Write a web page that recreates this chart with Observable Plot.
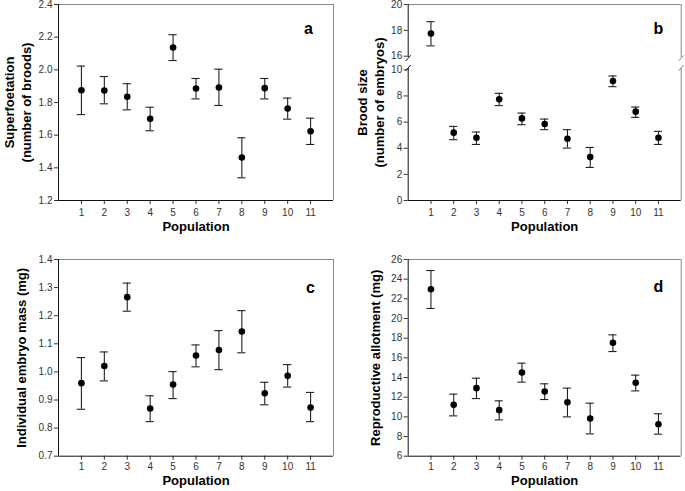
<!DOCTYPE html>
<html><head><meta charset="utf-8">
<script src="https://cdn.jsdelivr.net/npm/d3@7"></script>
<script src="https://cdn.jsdelivr.net/npm/@observablehq/plot@0.6"></script>
<style>
body{margin:0;background:#fff;}
#root{position:relative;width:685px;height:491px;overflow:hidden;background:#fff;}
#root svg{position:absolute;overflow:visible;}
</style></head><body><div id="root"></div>
<script>
const population = [1,2,3,4,5,6,7,8,9,10,11];

const superfoetation     = [1.875,1.873,1.835,1.700,2.137,1.886,1.892,1.463,1.888,1.763,1.624];
const superfoetationLow  = [1.726,1.792,1.755,1.627,2.057,1.822,1.782,1.339,1.822,1.698,1.543];
const superfoetationHigh = [2.023,1.959,1.915,1.771,2.215,1.947,2.004,1.584,1.947,1.827,1.704];

const broodSize     = [17.75,5.19,4.80,7.74,6.28,5.85,4.73,3.32,9.14,6.80,4.80];
const broodSizeLow  = [16.80,4.65,4.29,7.26,5.80,5.42,4.01,2.53,8.71,6.36,4.29];
const broodSizeHigh = [18.67,5.67,5.24,8.20,6.69,6.23,5.42,4.06,9.53,7.15,5.29];

const embryoMass     = [0.960,1.021,1.266,0.870,0.955,1.058,1.078,1.144,0.924,0.986,0.873];
const embryoMassLow  = [0.867,0.968,1.216,0.823,0.905,1.018,1.008,1.068,0.883,0.946,0.823];
const embryoMassHigh = [1.051,1.071,1.316,0.915,1.001,1.096,1.147,1.218,0.963,1.026,0.927];

const allotment     = [22.98,11.22,12.92,10.68,14.51,12.58,11.49,9.83,17.53,13.46,9.25];
const allotmentLow  = [21.02,10.10,11.86,9.69,13.53,11.76,10.00,8.27,16.64,12.64,8.24];
const allotmentHigh = [24.88,12.31,13.93,11.63,15.46,13.36,12.92,11.39,18.34,14.24,10.31];

const xDomain = [0, 12];
const superTicks = [1.2,1.4,1.6,1.8,2.0,2.2,2.4];
const broodTicksLow = [0,2,4,6,8,10];
const broodTicksHigh = [16,18,20];
const massTicks = [0.7,0.8,0.9,1.0,1.1,1.2,1.3,1.4];
const allotTicks = [6,8,10,12,14,16,18,20,22,24,26];

const FONT = "'Liberation Sans', Arial, Helvetica, sans-serif";
const root = document.getElementById("root");

function rows(mean, lo, hi) {
  return population.map((p, i) => ({pop: p, mean: mean[i], lo: lo[i], hi: hi[i]}));
}

function errorMarks(data) {
  const cap = 0.18;
  return [
    Plot.ruleX(data, {x: "pop", y1: "lo", y2: "hi", stroke: "#222", strokeWidth: 1.1}),
    Plot.ruleY(data, {y: "hi", x1: d => d.pop - cap, x2: d => d.pop + cap, stroke: "#222", strokeWidth: 1.1}),
    Plot.ruleY(data, {y: "lo", x1: d => d.pop - cap, x2: d => d.pop + cap, stroke: "#222", strokeWidth: 1.1}),
    Plot.dot(data, {x: "pop", y: "mean", r: 3.3, fill: "#000", stroke: null})
  ];
}

function place(svg, left, top) {
  svg.style.left = left + "px";
  svg.style.top = top + "px";
  root.appendChild(svg);
}

function panel({left, top, width, height, mL, mR, mT, mB, yDomain, yTicks, fmt, data, letter, letterDx, letterDy, ytitle, ytitleDx, xPad}) {
  const svg = Plot.plot({
    width, height,
    marginLeft: mL, marginRight: mR, marginTop: mT, marginBottom: mB,
    style: {fontFamily: FONT, fontSize: "10px", color: "#333", background: "transparent", overflow: "visible"},
    x: {domain: xDomain, ticks: population, tickSize: 4, tickPadding: xPad, label: null, tickFormat: d3.format("d")},
    y: {domain: yDomain, ticks: yTicks, tickSize: 4, tickPadding: 2, label: null, tickFormat: fmt},
    marks: [
      Plot.ruleY([yDomain[1]], {stroke: "#888", strokeWidth: 1}),
      Plot.ruleX([xDomain[1]], {stroke: "#888", strokeWidth: 1}),
      Plot.ruleX([xDomain[0]], {stroke: "#111", strokeWidth: 1}),
      Plot.ruleY([yDomain[0]], {stroke: "#111", strokeWidth: 1}),
      ...errorMarks(data),
      Plot.text([letter], {frameAnchor: "top-right", dx: letterDx, dy: letterDy, fontSize: 16, fontWeight: "bold", fill: "#000", textAnchor: "middle"}),
      Plot.text([ytitle], {frameAnchor: "left", dx: ytitleDx, rotate: -90, fontSize: 13, fontWeight: "bold", fill: "#000", lineHeight: 1.3, textAnchor: "middle"}),
      Plot.text(["Population"], {frameAnchor: "bottom", dy: top === 0 ? 30 : 28.5, fontSize: 13, fontWeight: "bold", fill: "#000", textAnchor: "middle"})
    ]
  });
  place(svg, left, top);
}

// Panel a
panel({left: 0, top: 0, width: 340, height: 245, mL: 58, mR: 7, mT: 4, mB: 45,
  yDomain: [1.2, 2.4], yTicks: superTicks, fmt: d3.format(".1f"),
  data: rows(superfoetation, superfoetationLow, superfoetationHigh),
  letter: "a", letterDx: -25, letterDy: 18,
  ytitle: "Superfoetation\n(number of broods)", ytitleDx: -41.5, xPad: 4.5});

// Panel c
panel({left: 0, top: 245, width: 340, height: 246, mL: 58, mR: 7, mT: 14, mB: 35.3,
  yDomain: [0.7, 1.4], yTicks: massTicks, fmt: d3.format(".1f"),
  data: rows(embryoMass, embryoMassLow, embryoMassHigh),
  letter: "c", letterDx: -23, letterDy: 22,
  ytitle: "Individual embryo mass (mg)", ytitleDx: -38, xPad: 2.5});

// Panel d
panel({left: 340, top: 245, width: 345, height: 246, mL: 67.7, mR: 4.3, mT: 14, mB: 35.3,
  yDomain: [6, 26], yTicks: allotTicks, fmt: d3.format("d"),
  data: rows(allotment, allotmentLow, allotmentHigh),
  letter: "d", letterDx: -22.7, letterDy: 21,
  ytitle: "Reproductive allotment (mg)", ytitleDx: -34, xPad: 2.5});

// Panel b (broken y axis: lower 0–10, upper 16–20)
const broodData = rows(broodSize, broodSizeLow, broodSizeHigh);
const lowDomain = [0, 10.1];
const highDomain = [15.9, 20];
const lowData = broodData.filter(d => d.hi <= lowDomain[1]);
const highData = broodData.filter(d => d.lo >= highDomain[0]);

function breakMarks(yv, ySpan, color) {
  return [
    Plot.link([xDomain[0]], {x1: d => d - 0.11, x2: d => d + 0.11, y1: yv - ySpan, y2: yv + ySpan, stroke: "#111", strokeWidth: 1}),
    Plot.link([xDomain[1]], {x1: d => d - 0.11, x2: d => d + 0.11, y1: yv - ySpan, y2: yv + ySpan, stroke: color, strokeWidth: 1})
  ];
}

const bLower = Plot.plot({
  width: 345, height: 245, marginLeft: 67.7, marginRight: 4.3, marginTop: 68, marginBottom: 45,
  style: {fontFamily: FONT, fontSize: "10px", color: "#333", background: "transparent", overflow: "visible"},
  x: {domain: xDomain, ticks: population, tickSize: 4, tickPadding: 4.5, label: null, tickFormat: d3.format("d")},
  y: {domain: lowDomain, ticks: broodTicksLow, tickSize: 4, tickPadding: 2, label: null, tickFormat: d3.format("d")},
  marks: [
    Plot.ruleX([xDomain[1]], {y1: lowDomain[0], y2: lowDomain[1], stroke: "#888"}),
    Plot.ruleX([xDomain[0]], {y1: lowDomain[0], y2: lowDomain[1], stroke: "#111"}),
    Plot.ruleY([lowDomain[0]], {stroke: "#111"}),
    ...breakMarks(lowDomain[1] + 0.05, 0.22, "#888"),
    ...errorMarks(lowData),
    Plot.text(["Brood size\n(number of embryos)"], {frameAnchor: "left", dx: -38, dy: -32, rotate: -90, fontSize: 13, fontWeight: "bold", fill: "#000", lineHeight: 1.3, textAnchor: "middle"}),
    Plot.text(["Population"], {frameAnchor: "bottom", dy: 30, fontSize: 13, fontWeight: "bold", fill: "#000", textAnchor: "middle"})
  ]
});
place(bLower, 340, 0);

const bUpper = Plot.plot({
  width: 345, height: 60, marginLeft: 67.7, marginRight: 4.3, marginTop: 4, marginBottom: 3,
  style: {fontFamily: FONT, fontSize: "10px", color: "#333", background: "transparent", overflow: "visible"},
  x: {domain: xDomain, axis: null},
  y: {domain: highDomain, ticks: broodTicksHigh, tickSize: 4, tickPadding: 2, label: null, tickFormat: d3.format("d")},
  marks: [
    Plot.ruleY([highDomain[1]], {stroke: "#888"}),
    Plot.ruleX([xDomain[1]], {stroke: "#888"}),
    Plot.ruleX([xDomain[0]], {stroke: "#111"}),
    ...breakMarks(highDomain[0] - 0.05, 0.22, "#888"),
    ...errorMarks(highData),
    Plot.text(["b"], {frameAnchor: "top-right", dx: -22.7, dy: 18, fontSize: 16, fontWeight: "bold", fill: "#000", textAnchor: "middle"})
  ]
});
place(bUpper, 340, 0);
</script></body></html>
